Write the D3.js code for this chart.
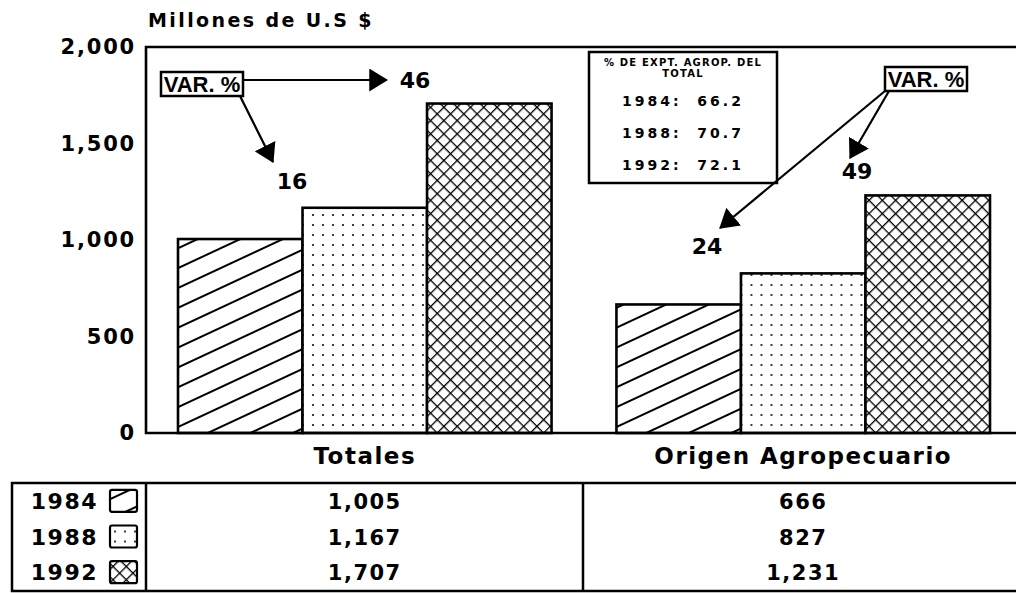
<!DOCTYPE html>
<html>
<head>
<meta charset="utf-8">
<script src="https://cdn.jsdelivr.net/npm/d3@7"></script>
<style>
  body { margin: 0; background: #fff; }
  text { font-family: "DejaVu Sans", sans-serif; font-weight: bold; fill: #000; }
</style>
</head>
<body>
<div class="container"></div>
<script>
var categories = ['Totales', 'Origen Agropecuario'];
var years = ['1984', '1988', '1992'];
var values1984 = [1005, 666];
var values1988 = [1167, 827];
var values1992 = [1707, 1231];
var yTicks = [0, 500, 1000, 1500, 2000];
var shareYears = ['1984', '1988', '1992'];
var shareValues = ['66.2', '70.7', '72.1'];
var varTotales = ['46', '16'];
var varAgro = ['49', '24'];

var series = [values1984, values1988, values1992];
var fills = ['url(#hatch)', 'url(#dots)', 'url(#cross)'];

var w = 1016, h = 593;
var plotLeft = 146, plotTop = 47, plotBottom = 433, plotRight = 1016;

var svg = d3.select('.container').append('svg')
  .attr('width', w).attr('height', h);

svg.append('rect').attr('width', w).attr('height', h).attr('fill', '#fff');

/* patterns */
var defs = svg.append('defs');
var hp = defs.append('pattern').attr('id', 'hatch')
  .attr('patternUnits', 'userSpaceOnUse')
  .attr('width', 20).attr('height', 18)
  .attr('patternTransform', 'rotate(-25)');
hp.append('rect').attr('width', 20).attr('height', 18).attr('fill', '#fff');
hp.append('line').attr('x1', 0).attr('y1', 9).attr('x2', 20).attr('y2', 9)
  .attr('stroke', '#000').attr('stroke-width', 2);
var dp = defs.append('pattern').attr('id', 'dots')
  .attr('patternUnits', 'userSpaceOnUse')
  .attr('width', 10).attr('height', 10);
dp.append('rect').attr('width', 10).attr('height', 10).attr('fill', '#fff');
dp.append('circle').attr('cx', 5).attr('cy', 5).attr('r', 1).attr('fill', '#000');
var cp = defs.append('pattern').attr('id', 'cross')
  .attr('patternUnits', 'userSpaceOnUse')
  .attr('width', 9.4).attr('height', 9.4)
  .attr('patternTransform', 'rotate(45)');
cp.append('rect').attr('width', 9.4).attr('height', 9.4).attr('fill', '#fff');
cp.append('line').attr('x1', 0).attr('y1', 0).attr('x2', 9.4).attr('y2', 0)
  .attr('stroke', '#000').attr('stroke-width', 2.6);
cp.append('line').attr('x1', 0).attr('y1', 0).attr('x2', 0).attr('y2', 9.4)
  .attr('stroke', '#000').attr('stroke-width', 2.6);

defs.append('marker').attr('id', 'head')
  .attr('viewBox', '0 0 18 22').attr('refX', 17).attr('refY', 11)
  .attr('markerUnits', 'userSpaceOnUse')
  .attr('markerWidth', 19).attr('markerHeight', 23)
  .attr('orient', 'auto')
  .append('path').attr('d', 'M0,0L18,11L0,22Z').attr('fill', '#000');

/* scales */
var y = d3.scaleLinear().domain([0, 2000]).range([plotBottom, plotTop]);
var x0 = d3.scaleBand().domain(categories).range([178, 990])
  .paddingInner(0.148).paddingOuter(0);
var x1 = d3.scaleBand().domain(years).range([0, x0.bandwidth()]);

/* title */
svg.append('text').attr('x', 148).attr('y', 27)
  .style('font-size', '19px').style('letter-spacing', '2.4px')
  .text('Millones de U.S $');

/* y axis labels */
var yAxis = d3.axisLeft(y).tickValues(yTicks).tickSize(0).tickPadding(10)
  .tickFormat(d3.format(','));
var ga = svg.append('g').attr('transform', 'translate(' + plotLeft + ',0)').call(yAxis);
ga.select('.domain').remove();
ga.selectAll('text').style('font-size', '21px').style('letter-spacing', '1.8px')
  .style('font-family', '"DejaVu Sans", sans-serif').style('font-weight', 'bold')
  .attr('fill', '#000');

/* bars */
var groups = svg.selectAll('g.cat').data(categories).enter().append('g')
  .attr('class', 'cat')
  .attr('transform', function(d) { return 'translate(' + x0(d) + ',0)'; });

groups.selectAll('rect').data(function(d, ci) {
    return years.map(function(yr, yi) { return { year: yr, value: series[yi][ci], fill: fills[yi] }; });
  })
  .enter().append('rect')
  .attr('x', function(d) { return x1(d.year); })
  .attr('y', function(d) { return y(d.value); })
  .attr('width', x1.bandwidth())
  .attr('height', function(d) { return plotBottom - y(d.value); })
  .attr('fill', function(d) { return d.fill; })
  .attr('stroke', '#000').attr('stroke-width', 2.6);

/* frame */
svg.append('path')
  .attr('d', 'M' + plotRight + ',' + plotTop + 'H' + plotLeft + 'V' + plotBottom + 'H' + plotRight)
  .attr('fill', 'none').attr('stroke', '#000').attr('stroke-width', 2.6);

/* category labels */
svg.selectAll('text.cat').data(categories).enter().append('text')
  .attr('class', 'cat')
  .attr('x', function(d) { return x0(d) + x0.bandwidth() / 2; })
  .attr('y', 464)
  .attr('text-anchor', 'middle')
  .style('font-size', '23px').style('letter-spacing', '1.5px')
  .text(function(d) { return d; });

/* info box */
svg.append('rect').attr('x', 589).attr('y', 52).attr('width', 188).attr('height', 131)
  .attr('fill', '#fff').attr('stroke', '#000').attr('stroke-width', 2.5);
svg.append('text').attr('x', 683).attr('y', 66).attr('text-anchor', 'middle')
  .style('font-size', '10px').style('letter-spacing', '1.2px').text('% DE EXPT. AGROP. DEL');
svg.append('text').attr('x', 683).attr('y', 77).attr('text-anchor', 'middle')
  .style('font-size', '10px').style('letter-spacing', '1.2px').text('TOTAL');
svg.selectAll('text.share').data(shareYears).enter().append('text')
  .attr('class', 'share')
  .attr('x', 683)
  .attr('y', function(d, i) { return 106 + i * 32; })
  .attr('text-anchor', 'middle')
  .style('font-size', '14px').style('letter-spacing', '3px')
  .attr('xml:space', 'preserve')
  .text(function(d, i) { return d + ':  ' + shareValues[i]; });

/* VAR % annotations */
function varBox(bx, by) {
  svg.append('rect').attr('x', bx).attr('y', by).attr('width', 82).attr('height', 24)
    .attr('fill', '#fff').attr('stroke', '#000').attr('stroke-width', 2.5);
  svg.append('text').attr('x', bx + 41).attr('y', by + 20).attr('text-anchor', 'middle')
    .style('font-size', '22px').style('font-family', '"Liberation Sans Narrow", "Liberation Sans", sans-serif')
    .text('VAR. %');
}
function arrow(xa, ya, xb, yb) {
  svg.append('line').attr('x1', xa).attr('y1', ya).attr('x2', xb).attr('y2', yb)
    .attr('stroke', '#000').attr('stroke-width', 2.2).attr('marker-end', 'url(#head)');
}
function label(tx, ty, t) {
  svg.append('text').attr('x', tx).attr('y', ty).attr('text-anchor', 'middle')
    .style('font-size', '22px').text(t);
}

varBox(161, 72);
arrow(243, 80, 387, 80);
arrow(240, 96, 273, 162);
label(415, 88, varTotales[0]);
label(292, 189, varTotales[1]);

varBox(885, 67);
arrow(885, 91, 720, 228);
arrow(889, 91, 850, 158);
label(857, 179, varAgro[0]);
label(707, 254, varAgro[1]);

/* data table */
var rowY = d3.scaleBand().domain(years).range([483, 590]);
svg.append('rect').attr('x', 12).attr('y', 483).attr('width', 1010).attr('height', 108)
  .attr('fill', 'none').attr('stroke', '#000').attr('stroke-width', 2.5);
svg.append('line').attr('x1', plotLeft).attr('x2', plotLeft).attr('y1', 483).attr('y2', 591)
  .attr('stroke', '#000').attr('stroke-width', 2.5);
svg.append('line').attr('x1', 583).attr('x2', 583).attr('y1', 483).attr('y2', 591)
  .attr('stroke', '#000').attr('stroke-width', 2.5);

var rows = svg.selectAll('g.row').data(years).enter().append('g')
  .attr('class', 'row')
  .attr('transform', function(d) { return 'translate(0,' + (rowY(d) + rowY.bandwidth() / 2) + ')'; });
rows.append('text').attr('x', 98).attr('y', 8).attr('text-anchor', 'end')
  .style('font-size', '22px').style('letter-spacing', '1.5px')
  .text(function(d) { return d; });
rows.append('rect').attr('x', 110).attr('y', -11).attr('width', 27).attr('height', 22)
  .attr('rx', 2)
  .attr('fill', function(d, i) { return fills[i]; })
  .attr('stroke', '#000').attr('stroke-width', 2.2);
rows.selectAll('text.val').data(function(d, i) { return series[i]; })
  .enter().append('text').attr('class', 'val')
  .attr('x', function(d, ci) { return x0(categories[ci]) + x0.bandwidth() / 2; })
  .attr('y', 8).attr('text-anchor', 'middle')
  .style('font-size', '21px').style('letter-spacing', '1.5px')
  .text(function(d) { return d3.format(',')(d); });
</script>
</body>
</html>
